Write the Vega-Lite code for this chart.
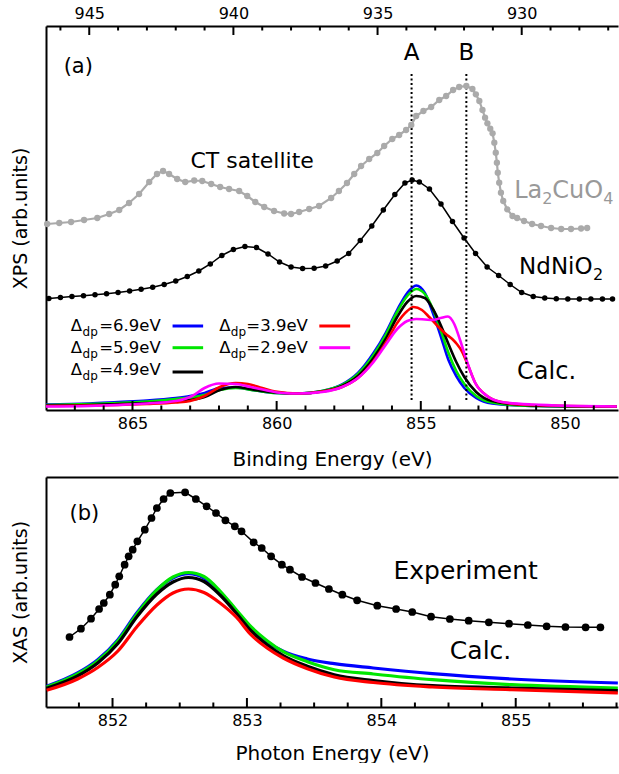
{
  "$schema": "https://vega.github.io/schema/vega-lite/v6.json",
  "background": "white",
  "padding": {"left": 11, "top": 5, "right": 0, "bottom": 0},
  "spacing": 8,
  "config": {
    "font": "DejaVu Sans",
    "view": {"stroke": null},
    "axis": {
      "grid": false,
      "domainColor": "#000000",
      "domainWidth": 2,
      "labelColor": "#000000",
      "titleColor": "#000000",
      "labelFont": "DejaVu Sans",
      "titleFont": "DejaVu Sans",
      "labelFontSize": 16,
      "titleFontSize": 20,
      "titleFontWeight": "normal",
      "labelOverlap": false,
      "labelFlush": false,
      "labelBound": false
    }
  },
  "datasets": {
    "ni": [
      {"E": 867.9, "v": 111.4}, {"E": 867.5, "v": 112.5}, {"E": 867.1, "v": 113.5}, {"E": 866.7, "v": 114.3},
      {"E": 866.3, "v": 115.2}, {"E": 865.9, "v": 116.2}, {"E": 865.5, "v": 117.4}, {"E": 865.1, "v": 119},
      {"E": 864.7, "v": 120.7}, {"E": 864.3, "v": 122.7}, {"E": 863.9, "v": 125.5}, {"E": 863.5, "v": 129},
      {"E": 863.1, "v": 133.5}, {"E": 862.7, "v": 139}, {"E": 862.3, "v": 146}, {"E": 861.9, "v": 154.5},
      {"E": 861.5, "v": 160.5}, {"E": 861.1, "v": 163.5}, {"E": 860.7, "v": 162.5}, {"E": 860.3, "v": 156},
      {"E": 859.9, "v": 148}, {"E": 859.5, "v": 143}, {"E": 859.1, "v": 141.5}, {"E": 858.7, "v": 141.8},
      {"E": 858.3, "v": 144}, {"E": 857.9, "v": 149}, {"E": 857.5, "v": 156.5}, {"E": 857.1, "v": 169.5},
      {"E": 856.7, "v": 184}, {"E": 856.3, "v": 200}, {"E": 855.9, "v": 215.5}, {"E": 855.55, "v": 227},
      {"E": 855.3, "v": 230}, {"E": 855.05, "v": 228}, {"E": 854.7, "v": 221}, {"E": 854.3, "v": 206},
      {"E": 853.9, "v": 188.5}, {"E": 853.5, "v": 172}, {"E": 853.1, "v": 156.5}, {"E": 852.7, "v": 143},
      {"E": 852.3, "v": 134.5}, {"E": 851.9, "v": 125.5}, {"E": 851.5, "v": 117.5}, {"E": 851.1, "v": 113.5},
      {"E": 850.7, "v": 112}, {"E": 850.3, "v": 111.3}, {"E": 849.9, "v": 111}, {"E": 849.5, "v": 111},
      {"E": 849.1, "v": 111}, {"E": 848.7, "v": 111}, {"E": 848.35, "v": 111}
    ],
    "lco": [
      {"Ecu": 946.46, "v": 186}, {"Ecu": 946.04, "v": 187}, {"Ecu": 945.63, "v": 188}, {"Ecu": 945.18, "v": 190},
      {"Ecu": 944.72, "v": 192}, {"Ecu": 944.31, "v": 196}, {"Ecu": 943.96, "v": 200}, {"Ecu": 943.62, "v": 207},
      {"Ecu": 943.27, "v": 216}, {"Ecu": 942.92, "v": 228}, {"Ecu": 942.65, "v": 236}, {"Ecu": 942.44, "v": 239},
      {"Ecu": 942.23, "v": 236}, {"Ecu": 941.95, "v": 231}, {"Ecu": 941.67, "v": 228}, {"Ecu": 941.36, "v": 229.5},
      {"Ecu": 941.08, "v": 229}, {"Ecu": 940.77, "v": 226}, {"Ecu": 940.46, "v": 223}, {"Ecu": 940.15, "v": 221},
      {"Ecu": 939.8, "v": 219}, {"Ecu": 939.52, "v": 214}, {"Ecu": 939.24, "v": 208}, {"Ecu": 938.93, "v": 203},
      {"Ecu": 938.59, "v": 199}, {"Ecu": 938.24, "v": 196.5}, {"Ecu": 938.0, "v": 196}, {"Ecu": 937.72, "v": 198},
      {"Ecu": 937.37, "v": 201}, {"Ecu": 937.03, "v": 204}, {"Ecu": 936.61, "v": 212}, {"Ecu": 936.34, "v": 219},
      {"Ecu": 936.06, "v": 227}, {"Ecu": 935.81, "v": 236}, {"Ecu": 935.57, "v": 244}, {"Ecu": 935.29, "v": 251},
      {"Ecu": 935.01, "v": 257}, {"Ecu": 934.77, "v": 264}, {"Ecu": 934.49, "v": 271}, {"Ecu": 934.25, "v": 275},
      {"Ecu": 934.01, "v": 280}, {"Ecu": 933.83, "v": 285}, {"Ecu": 933.66, "v": 294}, {"Ecu": 933.41, "v": 299},
      {"Ecu": 933.14, "v": 303}, {"Ecu": 932.86, "v": 310}, {"Ecu": 932.62, "v": 314}, {"Ecu": 932.38, "v": 320},
      {"Ecu": 932.17, "v": 323}, {"Ecu": 931.92, "v": 324}, {"Ecu": 931.71, "v": 321}, {"Ecu": 931.59, "v": 315.7},
      {"Ecu": 931.47, "v": 309}, {"Ecu": 931.36, "v": 300}, {"Ecu": 931.27, "v": 292.3}, {"Ecu": 931.19, "v": 286.7},
      {"Ecu": 931.09, "v": 281.3}, {"Ecu": 931.01, "v": 276.7}, {"Ecu": 930.95, "v": 267.3}, {"Ecu": 930.9, "v": 257.3},
      {"Ecu": 930.86, "v": 247.3}, {"Ecu": 930.83, "v": 237.3}, {"Ecu": 930.78, "v": 227.3}, {"Ecu": 930.72, "v": 217.3},
      {"Ecu": 930.64, "v": 209}, {"Ecu": 930.5, "v": 200.7}, {"Ecu": 930.32, "v": 194}, {"Ecu": 930.16, "v": 192},
      {"Ecu": 929.92, "v": 189}, {"Ecu": 929.64, "v": 186},
      {"Ecu": 929.33, "v": 184}, {"Ecu": 928.98, "v": 182}, {"Ecu": 928.63, "v": 181}, {"Ecu": 928.29, "v": 181},
      {"Ecu": 927.94, "v": 181.5}, {"Ecu": 927.73, "v": 182}
    ],
    "calcA": [
      {"d": "6.9", "E": 868.0, "v": 5.5}, {"d": "6.9", "E": 866.5, "v": 6.5}, {"d": "6.9", "E": 865.5, "v": 8},
      {"d": "6.9", "E": 864.5, "v": 9.5}, {"d": "6.9", "E": 863.5, "v": 12}, {"d": "6.9", "E": 863.0, "v": 14},
      {"d": "6.9", "E": 862.5, "v": 17}, {"d": "6.9", "E": 861.97, "v": 22}, {"d": "6.9", "E": 861.42, "v": 22.5},
      {"d": "6.9", "E": 860.74, "v": 19.5}, {"d": "6.9", "E": 860.05, "v": 17}, {"d": "6.9", "E": 859.23, "v": 16.5},
      {"d": "6.9", "E": 858.42, "v": 19}, {"d": "6.9", "E": 857.73, "v": 25.5}, {"d": "6.9", "E": 857.18, "v": 37},
      {"d": "6.9", "E": 856.64, "v": 57}, {"d": "6.9", "E": 856.22, "v": 77}, {"d": "6.9", "E": 855.82, "v": 100},
      {"d": "6.9", "E": 855.47, "v": 117}, {"d": "6.9", "E": 855.16, "v": 124.5}, {"d": "6.9", "E": 854.86, "v": 117},
      {"d": "6.9", "E": 854.58, "v": 97}, {"d": "6.9", "E": 854.31, "v": 74}, {"d": "6.9", "E": 854.04, "v": 50},
      {"d": "6.9", "E": 853.77, "v": 34}, {"d": "6.9", "E": 853.49, "v": 22}, {"d": "6.9", "E": 853.08, "v": 12},
      {"d": "6.9", "E": 852.53, "v": 6.5}, {"d": "6.9", "E": 851.17, "v": 4}, {"d": "6.9", "E": 848.2, "v": 3.3},

      {"d": "5.9", "E": 868.0, "v": 5}, {"d": "5.9", "E": 866.5, "v": 6}, {"d": "5.9", "E": 865.5, "v": 7},
      {"d": "5.9", "E": 864.5, "v": 8.5}, {"d": "5.9", "E": 863.5, "v": 11}, {"d": "5.9", "E": 863.0, "v": 12.5},
      {"d": "5.9", "E": 862.5, "v": 15}, {"d": "5.9", "E": 861.97, "v": 20}, {"d": "5.9", "E": 861.42, "v": 22},
      {"d": "5.9", "E": 860.74, "v": 19.5}, {"d": "5.9", "E": 860.05, "v": 17}, {"d": "5.9", "E": 859.23, "v": 16.5},
      {"d": "5.9", "E": 858.42, "v": 19}, {"d": "5.9", "E": 857.73, "v": 25}, {"d": "5.9", "E": 857.18, "v": 36},
      {"d": "5.9", "E": 856.64, "v": 55}, {"d": "5.9", "E": 856.22, "v": 75}, {"d": "5.9", "E": 855.82, "v": 98},
      {"d": "5.9", "E": 855.47, "v": 114}, {"d": "5.9", "E": 855.16, "v": 121}, {"d": "5.9", "E": 854.86, "v": 116},
      {"d": "5.9", "E": 854.58, "v": 101}, {"d": "5.9", "E": 854.31, "v": 80}, {"d": "5.9", "E": 854.04, "v": 57},
      {"d": "5.9", "E": 853.77, "v": 39}, {"d": "5.9", "E": 853.49, "v": 26}, {"d": "5.9", "E": 853.08, "v": 14},
      {"d": "5.9", "E": 852.53, "v": 7.5}, {"d": "5.9", "E": 851.17, "v": 4}, {"d": "5.9", "E": 848.2, "v": 3.3},

      {"d": "4.9", "E": 868.0, "v": 4.5}, {"d": "4.9", "E": 866.5, "v": 5}, {"d": "4.9", "E": 865.5, "v": 6},
      {"d": "4.9", "E": 864.5, "v": 7}, {"d": "4.9", "E": 863.5, "v": 8.5}, {"d": "4.9", "E": 863.0, "v": 10},
      {"d": "4.9", "E": 862.5, "v": 13}, {"d": "4.9", "E": 861.97, "v": 20}, {"d": "4.9", "E": 861.42, "v": 23},
      {"d": "4.9", "E": 860.74, "v": 20}, {"d": "4.9", "E": 860.05, "v": 17.5}, {"d": "4.9", "E": 859.23, "v": 16.5},
      {"d": "4.9", "E": 858.42, "v": 18.5}, {"d": "4.9", "E": 857.73, "v": 24}, {"d": "4.9", "E": 857.18, "v": 34},
      {"d": "4.9", "E": 856.64, "v": 52}, {"d": "4.9", "E": 856.22, "v": 71}, {"d": "4.9", "E": 855.82, "v": 93},
      {"d": "4.9", "E": 855.47, "v": 108}, {"d": "4.9", "E": 855.16, "v": 114}, {"d": "4.9", "E": 854.86, "v": 112},
      {"d": "4.9", "E": 854.58, "v": 101}, {"d": "4.9", "E": 854.31, "v": 85}, {"d": "4.9", "E": 854.04, "v": 66},
      {"d": "4.9", "E": 853.77, "v": 48}, {"d": "4.9", "E": 853.49, "v": 33}, {"d": "4.9", "E": 853.08, "v": 18},
      {"d": "4.9", "E": 852.53, "v": 9}, {"d": "4.9", "E": 851.17, "v": 4.5}, {"d": "4.9", "E": 848.2, "v": 3.3},

      {"d": "3.9", "E": 868.0, "v": 4}, {"d": "3.9", "E": 866.5, "v": 4.5}, {"d": "3.9", "E": 865.5, "v": 5},
      {"d": "3.9", "E": 864.5, "v": 6}, {"d": "3.9", "E": 863.5, "v": 7.5}, {"d": "3.9", "E": 863.0, "v": 9},
      {"d": "3.9", "E": 862.5, "v": 14}, {"d": "3.9", "E": 861.97, "v": 23}, {"d": "3.9", "E": 861.42, "v": 27},
      {"d": "3.9", "E": 861.0, "v": 26}, {"d": "3.9", "E": 860.5, "v": 22}, {"d": "3.9", "E": 860.05, "v": 18.5},
      {"d": "3.9", "E": 859.23, "v": 16.5}, {"d": "3.9", "E": 858.42, "v": 18.5}, {"d": "3.9", "E": 857.73, "v": 23},
      {"d": "3.9", "E": 857.18, "v": 32}, {"d": "3.9", "E": 856.64, "v": 49}, {"d": "3.9", "E": 856.22, "v": 67},
      {"d": "3.9", "E": 855.82, "v": 87}, {"d": "3.9", "E": 855.47, "v": 99}, {"d": "3.9", "E": 855.25, "v": 103},
      {"d": "3.9", "E": 854.96, "v": 100}, {"d": "3.9", "E": 854.71, "v": 93}, {"d": "3.9", "E": 854.42, "v": 84},
      {"d": "3.9", "E": 854.13, "v": 76}, {"d": "3.9", "E": 853.91, "v": 71}, {"d": "3.9", "E": 853.75, "v": 66},
      {"d": "3.9", "E": 853.58, "v": 59}, {"d": "3.9", "E": 853.38, "v": 46}, {"d": "3.9", "E": 853.11, "v": 27},
      {"d": "3.9", "E": 852.7, "v": 14}, {"d": "3.9", "E": 852.2, "v": 8}, {"d": "3.9", "E": 851.17, "v": 5},
      {"d": "3.9", "E": 848.2, "v": 3.5},

      {"d": "2.9", "E": 868.0, "v": 3.5}, {"d": "2.9", "E": 866.5, "v": 4}, {"d": "2.9", "E": 865.5, "v": 5},
      {"d": "2.9", "E": 864.5, "v": 6.5}, {"d": "2.9", "E": 863.5, "v": 9}, {"d": "2.9", "E": 862.93, "v": 14},
      {"d": "2.9", "E": 862.5, "v": 22}, {"d": "2.9", "E": 862.0, "v": 26.5}, {"d": "2.9", "E": 861.42, "v": 26},
      {"d": "2.9", "E": 860.9, "v": 23}, {"d": "2.9", "E": 860.4, "v": 20}, {"d": "2.9", "E": 859.8, "v": 17},
      {"d": "2.9", "E": 859.23, "v": 16.5}, {"d": "2.9", "E": 858.42, "v": 18}, {"d": "2.9", "E": 857.73, "v": 23},
      {"d": "2.9", "E": 857.18, "v": 32}, {"d": "2.9", "E": 856.64, "v": 48}, {"d": "2.9", "E": 856.22, "v": 65},
      {"d": "2.9", "E": 855.82, "v": 81}, {"d": "2.9", "E": 855.47, "v": 89}, {"d": "2.9", "E": 855.16, "v": 91},
      {"d": "2.9", "E": 854.86, "v": 90.5}, {"d": "2.9", "E": 854.58, "v": 90}, {"d": "2.9", "E": 854.31, "v": 92},
      {"d": "2.9", "E": 854.06, "v": 93.5}, {"d": "2.9", "E": 853.84, "v": 86}, {"d": "2.9", "E": 853.65, "v": 71},
      {"d": "2.9", "E": 853.38, "v": 47}, {"d": "2.9", "E": 853.11, "v": 27}, {"d": "2.9", "E": 852.7, "v": 14},
      {"d": "2.9", "E": 852.2, "v": 8}, {"d": "2.9", "E": 851.17, "v": 5.5}, {"d": "2.9", "E": 848.2, "v": 3.5}
    ],
    "exp": [
      {"E": 851.68, "v": 70}, {"E": 851.765, "v": 78.3}, {"E": 851.84, "v": 88.3}, {"E": 851.9, "v": 98},
      {"E": 851.935, "v": 104}, {"E": 851.98, "v": 112.3}, {"E": 852.02, "v": 122.3}, {"E": 852.05, "v": 130.7},
      {"E": 852.09, "v": 142.3}, {"E": 852.12, "v": 150.7}, {"E": 852.15, "v": 157.3}, {"E": 852.185, "v": 165.7},
      {"E": 852.24, "v": 177.3}, {"E": 852.29, "v": 189}, {"E": 852.33, "v": 199}, {"E": 852.38, "v": 208},
      {"E": 852.43, "v": 214}, {"E": 852.54, "v": 214.7}, {"E": 852.62, "v": 208}, {"E": 852.7, "v": 200.7},
      {"E": 852.77, "v": 194}, {"E": 852.84, "v": 186.7}, {"E": 852.91, "v": 180.7}, {"E": 852.96, "v": 175.7},
      {"E": 853.05, "v": 164.7}, {"E": 853.11, "v": 159}, {"E": 853.18, "v": 150.7}, {"E": 853.26, "v": 142.3},
      {"E": 853.32, "v": 137.3}, {"E": 853.41, "v": 130}, {"E": 853.51, "v": 124}, {"E": 853.61, "v": 118},
      {"E": 853.71, "v": 112.3}, {"E": 853.82, "v": 106.7}, {"E": 853.97, "v": 101.3}, {"E": 854.11, "v": 98},
      {"E": 854.23, "v": 95}, {"E": 854.37, "v": 90.3}, {"E": 854.51, "v": 88}, {"E": 854.65, "v": 86.3},
      {"E": 854.8, "v": 84.7}, {"E": 854.95, "v": 83.3}, {"E": 855.09, "v": 82}, {"E": 855.23, "v": 80.7},
      {"E": 855.37, "v": 80}, {"E": 855.52, "v": 79.7}, {"E": 855.63, "v": 79.7}
    ],
    "calcB": [
      {"d": "6.9", "E": 851.51, "v": 20.7}, {"d": "6.9", "E": 851.74, "v": 34}, {"d": "6.9", "E": 851.89, "v": 47.3},
      {"d": "6.9", "E": 852.04, "v": 67.3}, {"d": "6.9", "E": 852.18, "v": 94}, {"d": "6.9", "E": 852.33, "v": 117.3},
      {"d": "6.9", "E": 852.45, "v": 129}, {"d": "6.9", "E": 852.565, "v": 133.3}, {"d": "6.9", "E": 852.68, "v": 129},
      {"d": "6.9", "E": 852.8, "v": 114}, {"d": "6.9", "E": 852.92, "v": 96}, {"d": "6.9", "E": 853.03, "v": 79},
      {"d": "6.9", "E": 853.15, "v": 65.3}, {"d": "6.9", "E": 853.27, "v": 55.7}, {"d": "6.9", "E": 853.45, "v": 48},
      {"d": "6.9", "E": 853.65, "v": 43.3}, {"d": "6.9", "E": 853.94, "v": 39}, {"d": "6.9", "E": 854.38, "v": 33.3},
      {"d": "6.9", "E": 854.97, "v": 28}, {"d": "6.9", "E": 855.76, "v": 24},

      {"d": "5.9", "E": 851.51, "v": 20}, {"d": "5.9", "E": 851.74, "v": 33}, {"d": "5.9", "E": 851.89, "v": 46},
      {"d": "5.9", "E": 852.04, "v": 66}, {"d": "5.9", "E": 852.18, "v": 92.5}, {"d": "5.9", "E": 852.33, "v": 117},
      {"d": "5.9", "E": 852.45, "v": 130}, {"d": "5.9", "E": 852.565, "v": 134.5}, {"d": "5.9", "E": 852.68, "v": 130.5},
      {"d": "5.9", "E": 852.8, "v": 116}, {"d": "5.9", "E": 852.92, "v": 97.3}, {"d": "5.9", "E": 853.03, "v": 80.3},
      {"d": "5.9", "E": 853.15, "v": 66.3}, {"d": "5.9", "E": 853.27, "v": 55.3}, {"d": "5.9", "E": 853.45, "v": 45.3},
      {"d": "5.9", "E": 853.65, "v": 37.3}, {"d": "5.9", "E": 853.94, "v": 33}, {"d": "5.9", "E": 854.38, "v": 27.3},
      {"d": "5.9", "E": 854.97, "v": 22.3}, {"d": "5.9", "E": 855.76, "v": 19},

      {"d": "4.9", "E": 851.51, "v": 18.7}, {"d": "4.9", "E": 851.74, "v": 31}, {"d": "4.9", "E": 851.89, "v": 44},
      {"d": "4.9", "E": 852.04, "v": 63.5}, {"d": "4.9", "E": 852.18, "v": 90}, {"d": "4.9", "E": 852.33, "v": 113},
      {"d": "4.9", "E": 852.45, "v": 125}, {"d": "4.9", "E": 852.565, "v": 129.5}, {"d": "4.9", "E": 852.68, "v": 125.5},
      {"d": "4.9", "E": 852.8, "v": 112}, {"d": "4.9", "E": 852.92, "v": 94}, {"d": "4.9", "E": 853.03, "v": 76.3},
      {"d": "4.9", "E": 853.15, "v": 62.3}, {"d": "4.9", "E": 853.27, "v": 51.3}, {"d": "4.9", "E": 853.45, "v": 40.7},
      {"d": "4.9", "E": 853.65, "v": 32.3}, {"d": "4.9", "E": 853.94, "v": 26.5}, {"d": "4.9", "E": 854.38, "v": 21.3},
      {"d": "4.9", "E": 854.97, "v": 19}, {"d": "4.9", "E": 855.76, "v": 16.3},

      {"d": "3.9", "E": 851.51, "v": 16.7}, {"d": "3.9", "E": 851.74, "v": 28}, {"d": "3.9", "E": 851.89, "v": 39.5},
      {"d": "3.9", "E": 852.04, "v": 56}, {"d": "3.9", "E": 852.18, "v": 80}, {"d": "3.9", "E": 852.33, "v": 102},
      {"d": "3.9", "E": 852.45, "v": 114}, {"d": "3.9", "E": 852.565, "v": 118}, {"d": "3.9", "E": 852.68, "v": 114.5},
      {"d": "3.9", "E": 852.8, "v": 104}, {"d": "3.9", "E": 852.92, "v": 90}, {"d": "3.9", "E": 853.03, "v": 72.3},
      {"d": "3.9", "E": 853.15, "v": 59}, {"d": "3.9", "E": 853.27, "v": 49}, {"d": "3.9", "E": 853.45, "v": 38.3},
      {"d": "3.9", "E": 853.65, "v": 30}, {"d": "3.9", "E": 853.94, "v": 24.5}, {"d": "3.9", "E": 854.38, "v": 20},
      {"d": "3.9", "E": 854.97, "v": 17.3}, {"d": "3.9", "E": 855.76, "v": 14}
    ]
  },
  "vconcat": [
    {
      "width": 572,
      "height": 384,
      "resolve": {"scale": {"x": "independent"}},
      "layer": [
        {
          "resolve": {"axis": {"x": "independent"}},
          "layer": [
            {
              "layer": [
                {
                  "data": {"name": "calcA"},
                  "mark": {"type": "line", "interpolate": "monotone", "strokeWidth": 2.6},
                  "encoding": {
                    "x": {
                      "field": "E", "type": "quantitative",
                      "scale": {"domain": [848.16, 868], "reverse": true, "nice": false, "zero": false},
                      "axis": {"orient": "bottom", "title": "Binding Energy (eV)", "ticks": false, "labels": false, "domain": true, "titlePadding": 39}
                    },
                    "y": {
                      "field": "v", "type": "quantitative",
                      "scale": {"domain": [0, 384], "nice": false, "zero": false},
                      "axis": {"orient": "left", "title": "XPS (arb.units)", "labels": false, "ticks": false, "titlePadding": 16, "titleFontSize": 19}
                    },
                    "color": {
                      "field": "d", "type": "nominal",
                      "scale": {"domain": ["6.9", "5.9", "4.9", "3.9", "2.9"], "range": ["#0000ff", "#00e600", "#000000", "#ff0000", "#ff00ff"]},
                      "legend": null
                    }
                  }
                },
                {
                  "data": {"values": [{"E": 850}, {"E": 855}, {"E": 860}, {"E": 865}]},
                  "mark": {"type": "rule", "color": "#000000", "strokeWidth": 2},
                  "encoding": {"x": {"field": "E", "type": "quantitative"}, "y": {"datum": 0}, "y2": {"datum": 9}}
                },
                {
                  "data": {"values": [{"E": 849}, {"E": 851}, {"E": 852}, {"E": 853}, {"E": 854}, {"E": 856}, {"E": 857}, {"E": 858}, {"E": 859}, {"E": 861}, {"E": 862}, {"E": 863}, {"E": 864}, {"E": 866}, {"E": 867}]},
                  "mark": {"type": "rule", "color": "#000000", "strokeWidth": 2},
                  "encoding": {"x": {"field": "E", "type": "quantitative"}, "y": {"datum": 0}, "y2": {"datum": 4.5}}
                },
                {
                  "data": {"name": "ni"},
                  "mark": {"type": "line", "color": "#000000", "strokeWidth": 1.5},
                  "encoding": {"x": {"field": "E", "type": "quantitative"}, "y": {"field": "v", "type": "quantitative"}}
                },
                {
                  "data": {"name": "ni"},
                  "mark": {"type": "circle", "color": "#000000", "opacity": 1, "size": 30},
                  "encoding": {"x": {"field": "E", "type": "quantitative"}, "y": {"field": "v", "type": "quantitative"}}
                },
                {
                  "data": {"values": [{"E": 855.32, "lab": "A"}, {"E": 853.42, "lab": "B"}]},
                  "mark": {"type": "rule", "color": "#000000", "strokeWidth": 2, "strokeDash": [2, 2.5]},
                  "encoding": {"x": {"field": "E", "type": "quantitative"}, "y": {"datum": 10}, "y2": {"datum": 336}}
                },
                {
                  "data": {"values": [{}]},
                  "mark": {"type": "text", "fontSize": 21, "align": "center", "baseline": "alphabetic", "color": "#000000"},
                  "encoding": {"x": {"datum": 866.88}, "y": {"datum": 337}, "text": {"value": "(a)"}}
                },
                {
                  "data": {"values": [{}]},
                  "mark": {"type": "text", "fontSize": 22, "align": "center", "baseline": "alphabetic", "color": "#000000"},
                  "encoding": {"x": {"datum": 860.85}, "y": {"datum": 242}, "text": {"value": "CT satellite"}}
                },
                {
                  "data": {"values": [{}]},
                  "mark": {"type": "text", "fontSize": 23, "align": "left", "baseline": "alphabetic", "color": "#000000"},
                  "encoding": {"x": {"datum": 851.59}, "y": {"datum": 136}, "text": {"value": "NdNiO"}}
                },
                {
                  "data": {"values": [{}]},
                  "mark": {"type": "text", "fontSize": 16, "align": "left", "baseline": "alphabetic", "color": "#000000", "dx": 74, "dy": 6},
                  "encoding": {"x": {"datum": 851.59}, "y": {"datum": 136}, "text": {"value": "2"}}
                },
                {
                  "data": {"values": [{}]},
                  "mark": {"type": "text", "fontSize": 24, "align": "left", "baseline": "alphabetic", "color": "#000000"},
                  "encoding": {"x": {"datum": 851.66}, "y": {"datum": 31}, "text": {"value": "Calc."}}
                },
                {
                  "data": {"values": [{}]},
                  "mark": {"type": "text", "fontSize": 16.5, "lineHeight": 22, "align": "left", "baseline": "alphabetic", "color": "#000000"},
                  "encoding": {"x": {"datum": 867.14}, "y": {"datum": 79}, "text": {"value": ["Δ", "Δ", "Δ"]}}
                },
                {
                  "data": {"values": [{}]},
                  "mark": {"type": "text", "fontSize": 12, "lineHeight": 22, "align": "left", "baseline": "alphabetic", "color": "#000000"},
                  "encoding": {"x": {"datum": 866.73}, "y": {"datum": 74}, "text": {"value": ["dp", "dp", "dp"]}}
                },
                {
                  "data": {"values": [{}]},
                  "mark": {"type": "text", "fontSize": 16.5, "lineHeight": 22, "align": "left", "baseline": "alphabetic", "color": "#000000"},
                  "encoding": {"x": {"datum": 866.155}, "y": {"datum": 79}, "text": {"value": ["=6.9eV", "=5.9eV", "=4.9eV"]}}
                },
                {
                  "data": {"values": [{}]},
                  "mark": {"type": "text", "fontSize": 16.5, "lineHeight": 22, "align": "left", "baseline": "alphabetic", "color": "#000000"},
                  "encoding": {"x": {"datum": 861.99}, "y": {"datum": 79}, "text": {"value": ["Δ", "Δ"]}}
                },
                {
                  "data": {"values": [{}]},
                  "mark": {"type": "text", "fontSize": 12, "lineHeight": 22, "align": "left", "baseline": "alphabetic", "color": "#000000"},
                  "encoding": {"x": {"datum": 861.59}, "y": {"datum": 74}, "text": {"value": ["dp", "dp"]}}
                },
                {
                  "data": {"values": [{}]},
                  "mark": {"type": "text", "fontSize": 16.5, "lineHeight": 22, "align": "left", "baseline": "alphabetic", "color": "#000000"},
                  "encoding": {"x": {"datum": 861.05}, "y": {"datum": 79}, "text": {"value": ["=3.9eV", "=2.9eV"]}}
                },
                {
                  "data": {"values": [{}]},
                  "mark": {"type": "rule", "color": "#0000ff", "strokeWidth": 3},
                  "encoding": {"x": {"datum": 863.61}, "x2": {"datum": 862.55}, "y": {"datum": 84}}
                },
                {
                  "data": {"values": [{}]},
                  "mark": {"type": "rule", "color": "#00e600", "strokeWidth": 3},
                  "encoding": {"x": {"datum": 863.61}, "x2": {"datum": 862.55}, "y": {"datum": 62.3}}
                },
                {
                  "data": {"values": [{}]},
                  "mark": {"type": "rule", "color": "#000000", "strokeWidth": 3},
                  "encoding": {"x": {"datum": 863.61}, "x2": {"datum": 862.55}, "y": {"datum": 38}}
                },
                {
                  "data": {"values": [{}]},
                  "mark": {"type": "rule", "color": "#ff0000", "strokeWidth": 3},
                  "encoding": {"x": {"datum": 858.52}, "x2": {"datum": 857.45}, "y": {"datum": 84}}
                },
                {
                  "data": {"values": [{}]},
                  "mark": {"type": "rule", "color": "#ff00ff", "strokeWidth": 3},
                  "encoding": {"x": {"datum": 858.52}, "x2": {"datum": 857.45}, "y": {"datum": 62.3}}
                }
              ]
            },
            {
              "data": {"values": [{"E": 855.32, "lab": "A"}, {"E": 853.42, "lab": "B"}]},
              "mark": {"type": "text", "fontSize": 23, "align": "center", "baseline": "alphabetic", "color": "#000000"},
              "encoding": {
                "x": {
                  "field": "E", "type": "quantitative",
                  "axis": {"orient": "bottom", "values": [850, 855, 860, 865], "ticks": false, "domain": false, "labelPadding": 5, "title": null}
                },
                "y": {"datum": 350},
                "text": {"field": "lab"}
              }
            }
          ]
        },
        {
          "resolve": {"axis": {"x": "independent"}},
          "layer": [
            {
              "layer": [
                {
                  "data": {"name": "lco"},
                  "mark": {"type": "line", "color": "#aaaaaa", "strokeWidth": 2.2},
                  "encoding": {
                    "x": {
                      "field": "Ecu", "type": "quantitative",
                      "scale": {"domain": [926.66, 946.5], "reverse": true, "nice": false, "zero": false},
                      "axis": {"orient": "top", "title": null, "ticks": false, "labels": false, "domain": true}
                    },
                    "y": {"field": "v", "type": "quantitative"}
                  }
                },
                {
                  "data": {"values": [{"Ecu": 930}, {"Ecu": 935}, {"Ecu": 940}, {"Ecu": 945}]},
                  "mark": {"type": "rule", "color": "#000000", "strokeWidth": 2},
                  "encoding": {"x": {"field": "Ecu", "type": "quantitative"}, "y": {"datum": 384}, "y2": {"datum": 375}}
                },
                {
                  "data": {"values": [{"Ecu": 927}, {"Ecu": 928}, {"Ecu": 929}, {"Ecu": 931}, {"Ecu": 932}, {"Ecu": 933}, {"Ecu": 934}, {"Ecu": 936}, {"Ecu": 937}, {"Ecu": 938}, {"Ecu": 939}, {"Ecu": 941}, {"Ecu": 942}, {"Ecu": 943}, {"Ecu": 944}, {"Ecu": 946}]},
                  "mark": {"type": "rule", "color": "#000000", "strokeWidth": 2},
                  "encoding": {"x": {"field": "Ecu", "type": "quantitative"}, "y": {"datum": 384}, "y2": {"datum": 379.5}}
                },
                {
                  "data": {"name": "lco"},
                  "mark": {"type": "circle", "color": "#aaaaaa", "opacity": 1, "size": 40},
                  "encoding": {"x": {"field": "Ecu", "type": "quantitative"}, "y": {"field": "v", "type": "quantitative"}}
                },
                {
                  "data": {"values": [{}]},
                  "mark": {"type": "text", "fontSize": 24, "align": "left", "baseline": "alphabetic", "color": "#999999"},
                  "encoding": {"x": {"datum": 930.26}, "y": {"datum": 212}, "text": {"value": "La"}}
                },
                {
                  "data": {"values": [{}]},
                  "mark": {"type": "text", "fontSize": 16, "align": "left", "baseline": "alphabetic", "color": "#999999", "dx": 28, "dy": 6},
                  "encoding": {"x": {"datum": 930.26}, "y": {"datum": 212}, "text": {"value": "2"}}
                },
                {
                  "data": {"values": [{}]},
                  "mark": {"type": "text", "fontSize": 24, "align": "left", "baseline": "alphabetic", "color": "#999999", "dx": 38},
                  "encoding": {"x": {"datum": 930.26}, "y": {"datum": 212}, "text": {"value": "CuO"}}
                }
              ]
            },
            {
              "data": {"values": [{}]},
              "mark": {"type": "text", "fontSize": 16, "align": "left", "baseline": "alphabetic", "color": "#999999", "dx": 89, "dy": 6},
              "encoding": {
                "x": {
                  "datum": 930.26, "type": "quantitative",
                  "axis": {"orient": "top", "values": [930, 935, 940, 945], "ticks": false, "domain": false, "labelPadding": 5, "title": null}
                },
                "y": {"datum": 212},
                "text": {"value": "4"}
              }
            }
          ]
        }
      ]
    },
    {
      "width": 572,
      "height": 230,
      "resolve": {"axis": {"x": "independent"}},
      "layer": [
        {
          "layer": [
            {
              "data": {"name": "calcB"},
              "mark": {"type": "line", "interpolate": "monotone", "strokeWidth": 3.2},
              "encoding": {
                "x": {
                  "field": "E", "type": "quantitative",
                  "scale": {"domain": [851.505, 855.761], "nice": false, "zero": false},
                  "axis": {"orient": "bottom", "title": "Photon Energy (eV)", "ticks": false, "labels": false, "domain": true, "titlePadding": 36}
                },
                "y": {
                  "field": "v", "type": "quantitative",
                  "scale": {"domain": [0, 230], "nice": false, "zero": false},
                  "axis": {"orient": "left", "title": "XAS (arb.units)", "labels": false, "ticks": false, "titlePadding": 16, "titleFontSize": 19}
                },
                "color": {
                  "field": "d", "type": "nominal",
                  "scale": {"domain": ["6.9", "5.9", "4.9", "3.9"], "range": ["#0000ff", "#00e600", "#000000", "#ff0000"]},
                  "legend": null
                }
              }
            },
            {
              "data": {"values": [{"E": 852}, {"E": 853}, {"E": 854}, {"E": 855}]},
              "mark": {"type": "rule", "color": "#000000", "strokeWidth": 2},
              "encoding": {"x": {"field": "E", "type": "quantitative"}, "y": {"datum": 0}, "y2": {"datum": 9}}
            },
            {
              "data": {"values": [{"E": 851.75}, {"E": 852.25}, {"E": 852.5}, {"E": 852.75}, {"E": 853.25}, {"E": 853.5}, {"E": 853.75}, {"E": 854.25}, {"E": 854.5}, {"E": 854.75}, {"E": 855.25}, {"E": 855.5}, {"E": 855.75}]},
              "mark": {"type": "rule", "color": "#000000", "strokeWidth": 2},
              "encoding": {"x": {"field": "E", "type": "quantitative"}, "y": {"datum": 0}, "y2": {"datum": 4.5}}
            },
            {
              "data": {"name": "exp"},
              "mark": {"type": "line", "color": "#000000", "strokeWidth": 1.5},
              "encoding": {"x": {"field": "E", "type": "quantitative"}, "y": {"field": "v", "type": "quantitative"}}
            },
            {
              "data": {"name": "exp"},
              "mark": {"type": "circle", "color": "#000000", "opacity": 1, "size": 60},
              "encoding": {"x": {"field": "E", "type": "quantitative"}, "y": {"field": "v", "type": "quantitative"}}
            },
            {
              "data": {"values": [{}]},
              "mark": {"type": "text", "fontSize": 25, "align": "left", "baseline": "alphabetic", "color": "#000000"},
              "encoding": {"x": {"datum": 854.09}, "y": {"datum": 128.5}, "text": {"value": "Experiment"}}
            }
          ]
        },
        {
          "data": {"values": [{}]},
          "mark": {"type": "text", "fontSize": 25, "align": "left", "baseline": "alphabetic", "color": "#000000"},
          "encoding": {
            "x": {
              "datum": 854.51, "type": "quantitative",
              "axis": {"orient": "bottom", "values": [852, 853, 854, 855], "ticks": false, "domain": false, "labelPadding": 5, "title": null}
            },
            "y": {"datum": 48.5},
            "text": {"value": "Calc."}
          }
        },
        {
          "data": {"values": [{}]},
          "mark": {"type": "text", "fontSize": 21, "align": "center", "baseline": "alphabetic", "color": "#000000"},
          "encoding": {
            "x": {"datum": 851.79, "type": "quantitative", "axis": {"orient": "top", "title": null, "labels": false, "ticks": false, "domain": true}},
            "y": {"datum": 187.5, "type": "quantitative"},
            "text": {"value": "(b)"}
          }
        }
      ]
    }
  ]
}
